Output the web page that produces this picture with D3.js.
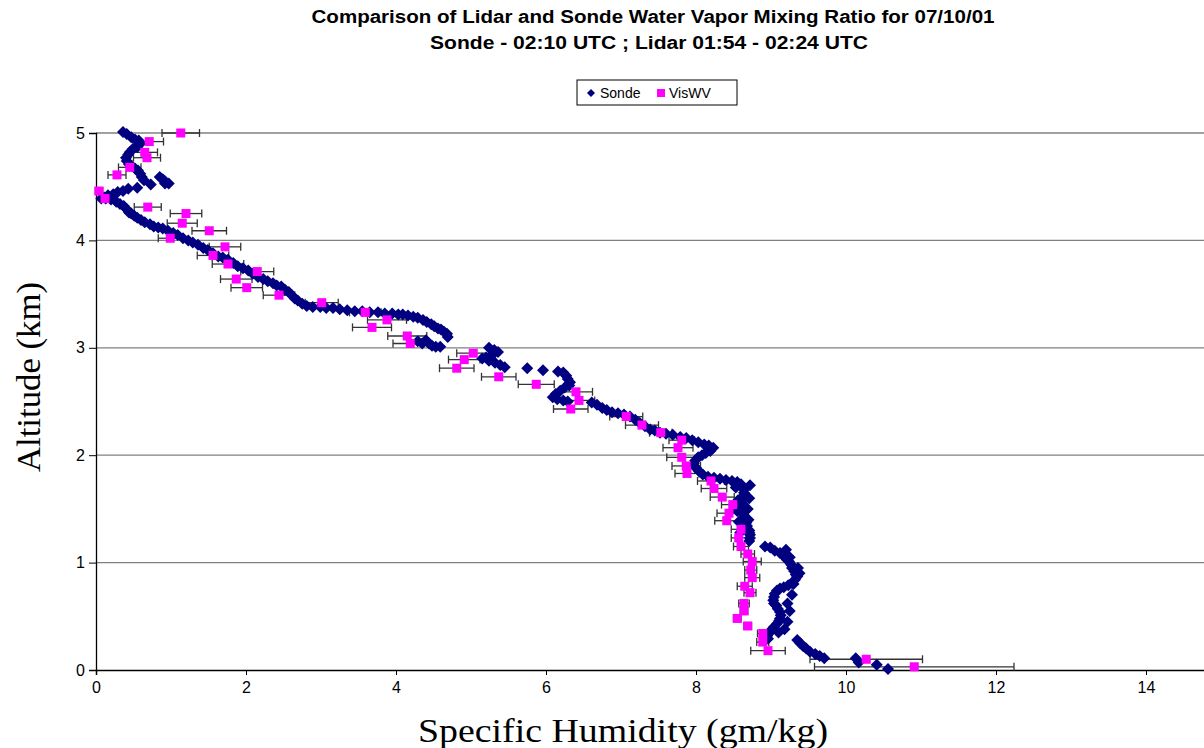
<!DOCTYPE html>
<html>
<head>
<meta charset="utf-8">
<script src="https://cdn.jsdelivr.net/npm/d3@7"></script>
<style>
  body { margin: 0; background: #fff; }
  svg { display: block; }
</style>
</head>
<body>
<div id="chart-area"></div>
<script>
// sonde profile: specific humidity (gm/kg) and altitude (km)
var sondeQ = [
  0.36,0.41,0.47,0.52,0.57,0.59,0.55,0.49,0.45,0.43,0.40,0.41,0.44,0.48,0.52,0.56,0.59,0.61,0.64,
  0.85,0.89,0.92,0.97,0.92,0.73,0.55,
  0.43,0.36,0.29,0.23,0.16,0.11,0.07,
  0.13,0.20,0.27,0.32,0.37,0.41,0.44,0.47,0.51,0.55,0.60,0.65,0.72,0.77,0.83,0.89,0.96,1.03,1.09,
  1.16,1.23,1.29,1.36,1.43,1.49,1.56,1.63,1.69,1.76,1.83,1.89,1.96,2.03,2.09,2.16,2.23,2.29,2.36,
  2.41,2.47,2.52,2.57,2.61,2.65,2.69,2.75,2.81,2.89,2.99,3.07,3.16,3.25,3.35,3.45,3.55,3.65,3.76,
  3.85,3.95,4.03,4.09,4.16,4.23,4.29,4.36,4.41,4.47,4.51,4.56,4.60,4.64,4.68,4.69,
  4.29,4.35,4.40,4.44,4.48,4.53,4.59,
  5.24,5.31,5.36,5.28,5.20,5.15,5.24,5.32,5.39,5.45,
  5.75,5.96,
  6.16,6.23,6.27,6.29,6.32,6.31,6.25,6.19,6.13,6.09,6.15,6.23,6.29,
  6.61,6.68,6.75,6.81,6.88,6.96,7.04,7.12,7.19,7.25,7.32,7.39,7.45,7.52,7.60,7.69,7.79,7.87,7.95,
  8.03,8.11,8.17,8.23,8.19,8.13,8.08,8.03,7.99,7.97,8.00,8.04,8.09,8.16,8.24,8.32,8.40,8.48,8.55,
  8.60,8.63,8.64,8.64,8.63,8.61,8.61,8.63,8.61,8.61,8.63,8.64,8.65,8.67,8.68,8.69,8.71,8.72,8.72,8.71,
  8.92,8.99,9.05,9.12,9.17,9.21,9.24,9.27,9.28,9.31,9.33,9.35,9.32,9.28,9.23,9.17,9.12,9.08,9.05,
  9.04,9.03,9.04,9.07,9.09,9.12,9.13,9.12,9.11,9.08,9.04,9.00,8.97,8.95,8.96,
  9.35,9.39,9.43,9.47,9.52,9.59,9.65,9.71,
  10.13,10.17,10.41,10.56,
  8.53,8.56,8.55,8.57,8.59,8.72,8.71,8.69,8.70,8.71,
  9.20,9.25,9.36,9.38,9.30,9.28,9.22,9.25,9.22,9.18,9.10
];
var sondeAlt = [
  5.01,4.99,4.96,4.94,4.93,4.90,4.87,4.85,4.82,4.80,4.77,4.74,4.71,4.69,4.67,4.65,4.62,4.59,4.56,
  4.59,4.57,4.55,4.53,4.53,4.52,4.49,
  4.48,4.46,4.45,4.43,4.42,4.40,4.39,
  4.39,4.38,4.36,4.34,4.32,4.29,4.26,4.25,4.23,4.21,4.19,4.17,4.15,4.13,4.12,4.11,4.09,4.07,4.05,
  4.02,4.00,3.98,3.96,3.93,3.91,3.88,3.85,3.84,3.82,3.79,3.76,3.74,3.72,3.69,3.66,3.64,3.62,3.60,
  3.58,3.57,3.54,3.52,3.49,3.46,3.44,3.41,3.39,3.38,3.38,3.37,3.37,3.36,3.35,3.34,3.34,3.33,3.33,
  3.32,3.32,3.31,3.31,3.30,3.29,3.28,3.26,3.24,3.22,3.20,3.18,3.17,3.15,3.13,3.10,
  3.06,3.04,3.07,3.04,3.02,3.01,3.01,
  3.00,2.98,2.96,2.93,2.91,2.90,2.88,2.86,2.84,2.82,
  2.81,2.79,
  2.78,2.77,2.74,2.71,2.68,2.65,2.63,2.60,2.57,2.54,2.52,2.51,2.50,
  2.49,2.47,2.44,2.42,2.40,2.39,2.38,2.36,2.33,2.30,2.27,2.24,2.23,2.21,2.20,2.19,2.17,2.16,2.14,
  2.12,2.10,2.09,2.07,2.04,2.02,2.00,1.98,1.95,1.92,1.88,1.85,1.82,1.80,1.79,1.78,1.77,1.76,1.75,
  1.73,1.70,1.68,1.65,1.62,1.59,1.56,1.54,1.51,1.48,1.45,1.42,1.40,1.37,1.34,1.31,1.28,1.26,1.23,1.20,
  1.15,1.14,1.11,1.09,1.06,1.03,1.01,0.98,0.95,0.92,0.89,0.87,0.84,0.81,0.79,0.77,0.76,0.74,0.71,
  0.68,0.65,0.62,0.60,0.57,0.54,0.51,0.48,0.46,0.43,0.40,0.37,0.34,0.32,0.29,
  0.28,0.25,0.22,0.20,0.17,0.15,0.13,0.11,
  0.11,0.07,0.05,0.01,
  1.70,1.58,1.48,1.38,1.28,1.72,1.60,1.50,1.40,1.30,
  1.12,1.05,0.95,0.90,0.80,0.70,0.62,0.55,0.45,0.38,0.35
];

// lidar (VisWV) retrieval with error half-widths
var lidarQ = [
  1.13,0.71,0.65,0.68,0.45,0.28,0.04,0.12,0.69,1.20,1.15,1.51,0.99,1.72,1.56,1.76,2.15,1.87,2.01,2.44,
  3.01,3.59,3.88,3.68,4.15,4.19,5.03,4.91,4.81,5.37,5.87,6.40,6.44,6.33,7.07,7.28,7.53,7.81,7.76,7.81,
  7.87,7.88,8.20,8.24,8.35,8.49,8.44,8.41,8.60,8.57,8.60,8.69,8.75,8.73,8.75,8.65,8.72,8.64,8.64,8.55,
  8.69,8.89,8.89,8.96,10.27,10.91
];
var lidarAlt = [
  5.00,4.92,4.82,4.77,4.68,4.61,4.46,4.39,4.31,4.25,4.16,4.09,4.02,3.94,3.86,3.78,3.71,3.64,3.56,3.49,
  3.42,3.33,3.26,3.19,3.11,3.04,2.95,2.89,2.81,2.73,2.66,2.59,2.51,2.43,2.36,2.28,2.21,2.14,2.07,1.98,
  1.90,1.83,1.76,1.69,1.61,1.54,1.46,1.39,1.31,1.23,1.15,1.08,1.01,0.93,0.86,0.78,0.72,0.62,0.55,0.48,
  0.41,0.34,0.26,0.18,0.10,0.03
];
var lidarErr = [
  0.25,0.19,0.17,0.18,0.15,0.12,0.05,0.05,0.18,0.21,0.20,0.23,0.16,0.21,0.21,0.21,0.22,0.21,0.21,0.21,
  0.22,0.21,0.26,0.26,0.26,0.23,0.22,0.21,0.23,0.23,0.24,0.22,0.21,0.23,0.22,0.22,0.15,0.17,0.20,0.20,
  0.19,0.16,0.18,0.17,0.16,0.15,0.16,0.16,0.13,0.10,0.10,0.09,0.12,0.08,0.10,0.10,0.08,0.07,0.05,0.05,
  0.05,0.07,0.08,0.23,0.75,1.33
];

var xTicks = [0, 2, 4, 6, 8, 10, 12, 14];
var yTicks = [0, 1, 2, 3, 4, 5];

var sonde = sondeQ.map((q, i) => ({q: q, alt: sondeAlt[i]}));
var lidar = lidarQ.map((q, i) => ({q: q, alt: lidarAlt[i], err: lidarErr[i]}));

var W = 1204, H = 748;
var margin = {left: 96, top: 133, bottom: 670};

var svg = d3.select("#chart-area")
  .append("svg")
    .attr("width", W)
    .attr("height", H);

var x = d3.scaleLinear().domain([0, 16]).range([margin.left, margin.left + 1200]);
var y = d3.scaleLinear().domain([0, 5]).range([margin.bottom, margin.top]);

// gridlines
svg.append("g")
  .selectAll("line")
  .data(yTicks.filter(d => d > 0))
  .enter().append("line")
    .attr("x1", margin.left).attr("x2", W)
    .attr("y1", d => y(d)).attr("y2", d => y(d))
    .attr("stroke", "#808080")
    .attr("stroke-width", 1.3);

// axes
var xAxis = svg.append("g")
  .attr("transform", "translate(0," + margin.bottom + ")")
  .call(d3.axisBottom(x).tickValues(xTicks).tickSize(5).tickPadding(7).tickFormat(d3.format("d")));
xAxis.select(".domain").attr("stroke", "#000").attr("stroke-width", 1.5);
xAxis.selectAll("text").attr("font-family", "Liberation Sans, Arial, sans-serif")
  .attr("font-size", "16px").attr("fill", "#000");

var yAxis = svg.append("g")
  .attr("transform", "translate(" + margin.left + ",0)")
  .call(d3.axisLeft(y).tickValues(yTicks).tickSize(7).tickPadding(4).tickFormat(d3.format("d")));
yAxis.select(".domain").attr("stroke", "#000").attr("stroke-width", 1.3);
yAxis.selectAll("text").attr("font-family", "Liberation Sans, Arial, sans-serif")
  .attr("font-size", "16px").attr("fill", "#000");

// error bars
var eb = svg.append("g").attr("stroke", "#333").attr("stroke-width", 1.3);
lidar.forEach(function(d) {
  var yy = y(d.alt), x0 = x(d.q - d.err), x1 = x(d.q + d.err);
  eb.append("line").attr("x1", x0).attr("x2", x1).attr("y1", yy).attr("y2", yy);
  eb.append("line").attr("x1", x0).attr("x2", x0).attr("y1", yy - 4).attr("y2", yy + 4);
  eb.append("line").attr("x1", x1).attr("x2", x1).attr("y1", yy - 4).attr("y2", yy + 4);
});

// sonde diamonds
svg.append("g")
  .selectAll("path")
  .data(sonde)
  .enter().append("path")
    .attr("transform", d => "translate(" + x(d.q) + "," + y(d.alt) + ")")
    .attr("d", "M0,-6L6,0L0,6L-6,0Z")
    .attr("fill", "#000080");

// lidar squares
svg.append("g")
  .selectAll("rect")
  .data(lidar)
  .enter().append("rect")
    .attr("x", d => x(d.q) - 4.5)
    .attr("y", d => y(d.alt) - 4.5)
    .attr("width", 9)
    .attr("height", 9)
    .attr("fill", "#FF00FF");

// titles
svg.append("text")
  .attr("x", 653).attr("y", 23)
  .attr("text-anchor", "middle")
  .attr("font-family", "Liberation Sans, Arial, sans-serif")
  .attr("font-weight", "bold")
  .attr("font-size", "18px")
  .attr("textLength", 683)
  .attr("lengthAdjust", "spacingAndGlyphs")
  .text("Comparison of Lidar and Sonde Water Vapor Mixing Ratio for 07/10/01");
svg.append("text")
  .attr("x", 649).attr("y", 49)
  .attr("text-anchor", "middle")
  .attr("font-family", "Liberation Sans, Arial, sans-serif")
  .attr("font-weight", "bold")
  .attr("font-size", "18px")
  .attr("textLength", 438)
  .attr("lengthAdjust", "spacingAndGlyphs")
  .text("Sonde - 02:10 UTC ; Lidar 01:54 - 02:24 UTC");

// axis labels
svg.append("text")
  .attr("x", 623).attr("y", 742)
  .attr("text-anchor", "middle")
  .attr("font-family", "Liberation Serif, Times New Roman, serif")
  .attr("font-size", "34px")
  .attr("textLength", 410)
  .attr("lengthAdjust", "spacingAndGlyphs")
  .text("Specific Humidity (gm/kg)");
svg.append("text")
  .attr("transform", "translate(40,377) rotate(-90)")
  .attr("text-anchor", "middle")
  .attr("font-family", "Liberation Serif, Times New Roman, serif")
  .attr("font-size", "34px")
  .attr("textLength", 190)
  .attr("lengthAdjust", "spacingAndGlyphs")
  .text("Altitude (km)");

// legend
var lg = svg.append("g").attr("transform", "translate(577,80)");
lg.append("rect").attr("width", 160).attr("height", 25)
  .attr("fill", "#fff").attr("stroke", "#000").attr("stroke-width", 1);
lg.append("path").attr("transform", "translate(14,13)")
  .attr("d", "M0,-4L4,0L0,4L-4,0Z").attr("fill", "#000080");
lg.append("text").attr("x", 23).attr("y", 18)
  .attr("font-family", "Liberation Sans, Arial, sans-serif").attr("font-size", "14px")
  .text("Sonde");
lg.append("rect").attr("x", 80).attr("y", 9).attr("width", 8).attr("height", 8)
  .attr("fill", "#FF00FF");
lg.append("text").attr("x", 92).attr("y", 18)
  .attr("font-family", "Liberation Sans, Arial, sans-serif").attr("font-size", "14px")
  .text("VisWV");
</script>
</body>
</html>
